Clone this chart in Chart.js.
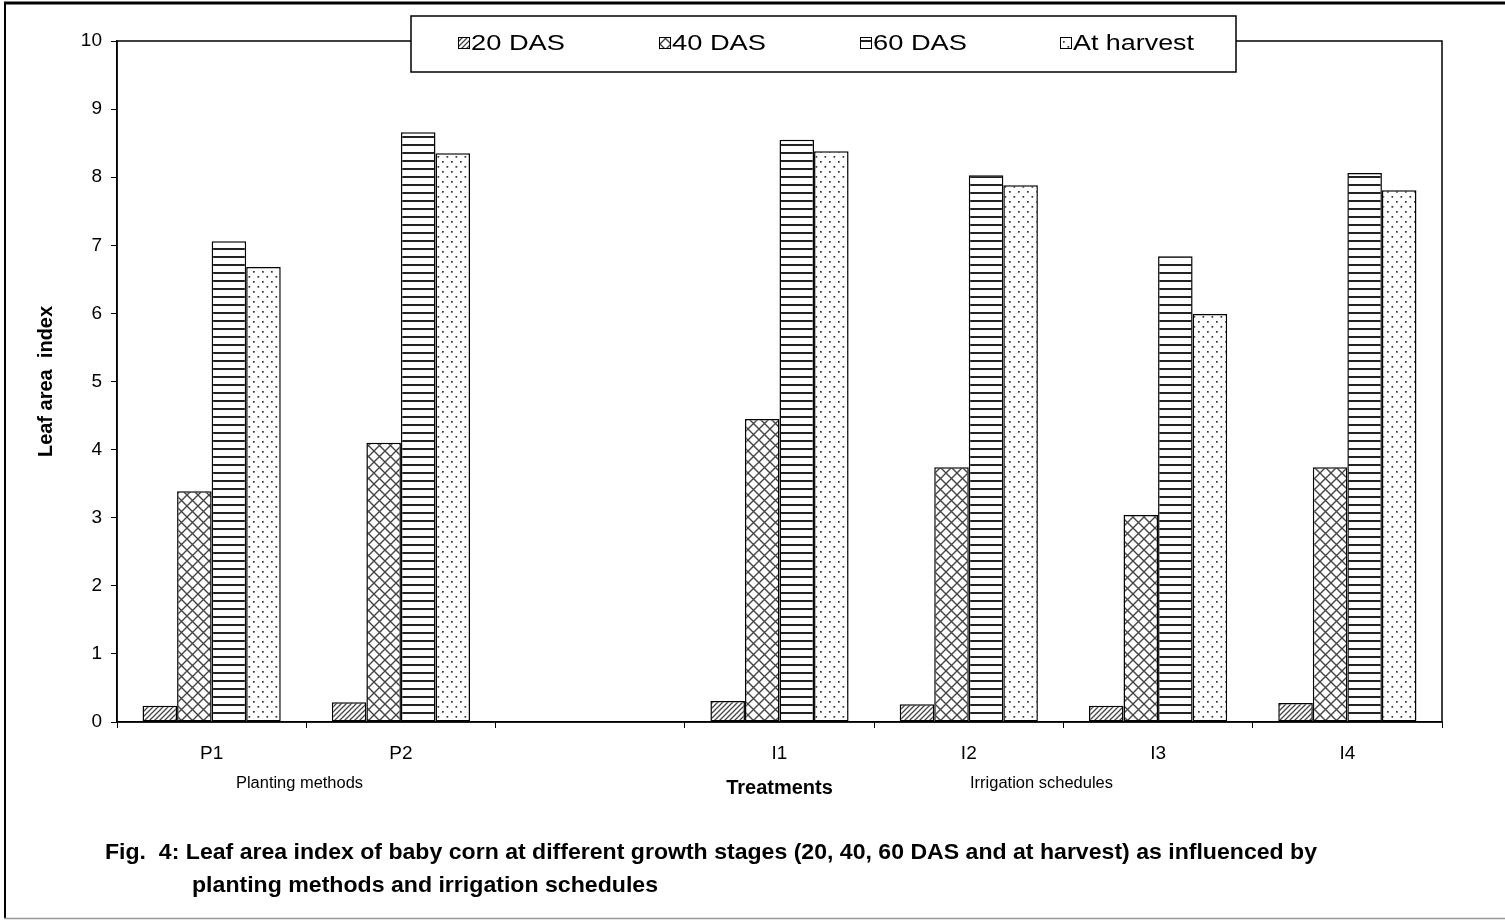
<!DOCTYPE html>
<html><head><meta charset="utf-8">
<script src="https://cdn.jsdelivr.net/npm/chart.js@4.4.1/dist/chart.umd.min.js"></script>
<style>html,body{margin:0;padding:0;background:#fff;overflow:hidden}canvas{display:block}</style>
</head><body>
<canvas id="c" width="1505" height="921"></canvas>
<script>
const categories = ['P1', 'P2', '', 'I1', 'I2', 'I3', 'I4'];
const seriesNames = ['20 DAS', '40 DAS', '60 DAS', 'At harvest'];
const das20   = [0.24, 0.29, null, 0.31, 0.26, 0.24, 0.28];
const das40   = [3.39, 4.10, null, 4.45, 3.74, 3.04, 3.74];
const das60   = [7.06, 8.66, null, 8.55, 8.03, 6.84, 8.06];
const harvest = [6.68, 8.35, null, 8.38, 7.88, 5.99, 7.81];
const yTickLabels = ['0','1','2','3','4','5','6','7','8','9','10'];
const yTitle = 'Leaf area  index';
const xTitle = 'Treatments';
const groupNotes = ['Planting methods', 'Irrigation schedules'];
const caption1 = 'Fig.  4: Leaf area index of baby corn at different growth stages (20, 40, 60 DAS and at harvest) as influenced by';
const caption2 = 'planting methods and irrigation schedules';

const FONT = "'Liberation Sans', Arial, Helvetica, sans-serif";

function makePattern(kind) {
  const t = document.createElement('canvas');
  const g = t.getContext('2d');
  if (kind === 'hatch') {
    t.width = 5; t.height = 5;
    g.fillStyle = '#fff'; g.fillRect(0, 0, 5, 5);
    g.strokeStyle = '#444'; g.lineWidth = 1.3;
    g.beginPath();
    g.moveTo(-1, 6); g.lineTo(6, -1);
    g.moveTo(-1, 1); g.lineTo(1, -1);
    g.moveTo(4, 6); g.lineTo(6, 4);
    g.stroke();
  } else if (kind === 'cross') {
    const n = 11;
    t.width = n; t.height = n;
    g.fillStyle = '#fff'; g.fillRect(0, 0, n, n);
    g.strokeStyle = '#444'; g.lineWidth = 1.4;
    g.beginPath();
    g.moveTo(-1, -1); g.lineTo(n + 1, n + 1);
    g.moveTo(-1, n + 1); g.lineTo(n + 1, -1);
    g.stroke();
  } else if (kind === 'hlines') {
    t.width = 8; t.height = 8;
    g.fillStyle = '#fff'; g.fillRect(0, 0, 8, 8);
    g.fillStyle = '#222'; g.fillRect(0, 0, 8, 2);
  } else {
    t.width = 9; t.height = 10;
    g.fillStyle = '#fff'; g.fillRect(0, 0, 9, 10);
    g.fillStyle = '#333';
    g.fillRect(1, 1, 1.7, 1.7);
    g.fillRect(5.5, 6, 1.7, 1.7);
  }
  return g.createPattern(t, 'repeat');
}

const ctx0 = document.getElementById('c').getContext('2d');
const patterns = [makePattern('hatch'), makePattern('cross'), makePattern('hlines'), makePattern('dots')];
const seriesData = [das20, das40, das60, harvest];

function drawFit(ctx, text, x, y, width, font) {
  ctx.save();
  ctx.font = font;
  ctx.textAlign = 'left';
  ctx.textBaseline = 'middle';
  const w = ctx.measureText(text).width;
  ctx.translate(x, y);
  ctx.scale(width / w, 1);
  ctx.fillText(text, 0, 0);
  ctx.restore();
}

const decor = {
  id: 'decor',
  beforeDraw(chart) {
    const c = chart.ctx;
    c.save();
    c.fillStyle = '#fff';
    c.fillRect(0, 0, chart.width, chart.height);
    c.strokeStyle = '#000';
    c.lineWidth = 3;
    c.beginPath(); c.moveTo(4, 3); c.lineTo(1505, 3); c.stroke();
    c.lineWidth = 2;
    c.beginPath(); c.moveTo(5, 2); c.lineTo(5, 918); c.stroke();
    c.strokeStyle = '#999';
    c.lineWidth = 1.5;
    c.beginPath(); c.moveTo(4, 918.5); c.lineTo(1505, 918.5); c.stroke();
    c.restore();
  },
  afterDraw(chart) {
    const c = chart.ctx;
    const a = chart.chartArea;
    c.save();
    // plot frame
    c.strokeStyle = '#000';
    c.lineWidth = 1.5;
    c.strokeRect(a.left, a.top, a.right - a.left, a.bottom - a.top);
    // legend box
    c.fillStyle = '#fff';
    c.fillRect(411, 16, 825, 56);
    c.lineWidth = 1.5;
    c.strokeRect(411, 16, 825, 56);
    const sx = [458, 659, 860, 1060];
    const tw = [94, 94, 94, 121];
    seriesNames.forEach((name, i) => {
      c.fillStyle = patterns[i];
      c.fillRect(sx[i], 37, 12, 12);
      c.strokeStyle = '#000';
      c.lineWidth = 1;
      c.strokeRect(sx[i] + 0.5, 37.5, 11, 11);
      c.fillStyle = '#000';
      drawFit(c, name, sx[i] + 13, 44, tw[i], '22px ' + FONT);
    });
    // group notes
    c.fillStyle = '#000';
    drawFit(c, groupNotes[0], 236, 784, 127, '16px ' + FONT);
    drawFit(c, groupNotes[1], 970, 784, 143, '16px ' + FONT);
    // caption
    drawFit(c, caption1, 105, 853, 1212, 'bold 22px ' + FONT);
    drawFit(c, caption2, 192, 886, 466, 'bold 22px ' + FONT);
    c.restore();
  }
};

new Chart(ctx0, {
  type: 'bar',
  data: {
    labels: categories,
    datasets: seriesNames.map((name, i) => ({
      label: name,
      data: seriesData[i],
      backgroundColor: patterns[i],
      borderColor: '#000',
      borderWidth: 1.5,
      borderSkipped: false,
      categoryPercentage: 0.73,
      barPercentage: 1.0
    }))
  },
  options: {
    responsive: false,
    animation: false,
    events: [],
    layout: { padding: { left: 0, right: 63, top: 41, bottom: 109 } },
    plugins: { legend: { display: false }, tooltip: { enabled: false } },
    scales: {
      x: {
        grid: { offset: true, drawOnChartArea: false, drawTicks: true, tickLength: 6, color: '#000', lineWidth: 1 },
        border: { display: true, color: '#000', width: 1.5 },
        ticks: { font: { family: FONT, size: 19 }, color: '#000', padding: 14, maxRotation: 0, autoSkip: false },
        title: { display: true, text: xTitle, color: '#000', font: { family: FONT, size: 20, weight: 'bold' }, padding: { top: 0, bottom: 12 } },
        afterFit(s) { s.height = 90; }
      },
      y: {
        min: 0, max: 10,
        grid: { drawOnChartArea: false, drawTicks: true, tickLength: 6, color: '#000', lineWidth: 1 },
        border: { display: true, color: '#000', width: 1.5 },
        ticks: { stepSize: 1, font: { family: FONT, size: 19 }, color: '#000', padding: 9,
                 callback: (v) => yTickLabels[v] },
        title: { display: true, text: yTitle, color: '#000', font: { family: FONT, size: 20, weight: 'bold' }, padding: { top: 34, bottom: 0 } },
        afterFit(s) { s.width = 117; }
      }
    }
  },
  plugins: [decor]
});
</script>
</body></html>
